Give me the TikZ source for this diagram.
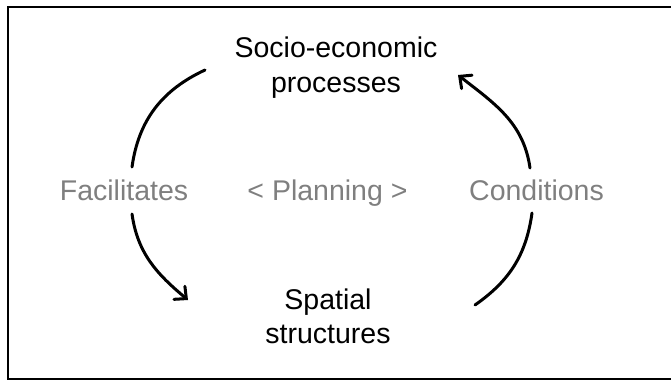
\documentclass[tikz,border=0pt]{standalone}
\usepackage{fontspec}
\setmainfont{Liberation Sans}
\usetikzlibrary{arrows.meta}
\definecolor{midgray}{HTML}{7F7F7F}

\begin{document}
\begin{tikzpicture}[x=1pt,y=1pt,
  every node/.style={inner sep=0pt,align=center,anchor=base,font=\fontsize{28.5}{34}\selectfont},
  side/.style={text=midgray},
  cycle/.style={line width=3pt,line cap=round},
  >={Straight Barb[length=9pt,width=17pt,line cap=round]}]
  \useasboundingbox (0,0) rectangle (671,381);
  \draw[line width=2pt] (671,374) -- (8,374) -- (8,2) -- (671,2);
  % base sits on the last line
  \path (336,289) node (soc) {Socio-economic\\processes}
  (328,38) node (spa) {Spatial\\structures}
  (124,181) node[side] (fac) {Facilitates}
  (327.5,181) node[side] (plan) {< Planning >}
  (536.5,181) node[side] (con) {Conditions};
  % arc ends
  \coordinate (fac-up) at (132,214);
  \coordinate (fac-down) at (132,167);
  \coordinate (soc-left) at (205,311);
  \coordinate (spa-left) at (188,81);
  \coordinate (con-up) at (530,213);
  \coordinate (con-down) at (532,168);
  \coordinate (soc-right) at (458,306);
  \coordinate (spa-right) at (475,76);
  \draw[cycle] (fac-up) to[out=82,in=205] (soc-left);
  \draw[cycle,->] (fac-down) to[out=-82,in=140] (spa-left);
  \draw[cycle,->] (con-up) to[out=98,in=-38] (soc-right);
  \draw[cycle] (con-down) to[out=-98,in=35] (spa-right);
\end{tikzpicture}
\end{document}
